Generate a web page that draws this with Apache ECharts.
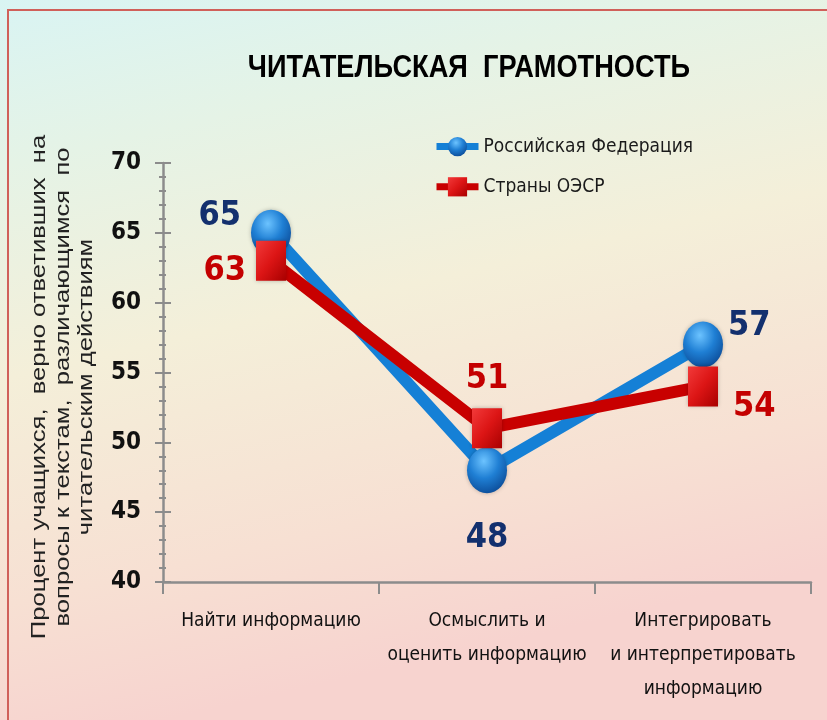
<!DOCTYPE html>
<html lang="ru">
<head>
    <meta charset="utf-8">
    <title>Читательская грамотность</title>
    <script src="https://cdn.jsdelivr.net/npm/echarts@6/dist/echarts.min.js"></script>
    <style>
        html, body { margin: 0; padding: 0; }
        #main { width: 827px; height: 720px; }
    </style>
</head>
<body>
<div id="main"></div>
<script type="text/javascript">
    // данные
    var categories = ['Найти информацию', 'Осмыслить и\nоценить информацию', 'Интегрировать\nи интерпретировать\nинформацию'];
    var russia = [65, 48, 57];
    var oecd = [63, 51, 54];
    var yTicks = [40, 45, 50, 55, 60, 65, 70];

    var narrow = '"Liberation Sans Narrow", "DejaVu Sans Condensed", sans-serif';

    var chart = echarts.init(document.getElementById('main'));

    // положение подписей для каждой точки
    var ruLabelPos = [
        {position: 'left', distance: 10, offset: [0, -17]},
        {position: 'bottom', distance: 28, offset: [0, 0]},
        {position: 'right', distance: 10, offset: [-5, -18]}
    ];
    var oeLabelPos = [
        {position: 'left', distance: 10, offset: [0, 10]},
        {position: 'top', distance: 12, offset: [0, 0]},
        {position: 'right', distance: 12, offset: [3, 21]}
    ];

    function withLabels(values, pos, color) {
        return values.map(function (v, i) {
            return {
                value: v,
                label: {
                    show: true,
                    position: pos[i].position,
                    distance: pos[i].distance,
                    offset: pos[i].offset,
                    color: color,
                    fontFamily: narrow,
                    fontWeight: 'bold',
                    fontSize: 34
                }
            };
        });
    }

    var option = {
        backgroundColor: new echarts.graphic.LinearGradient(0, 0, 0.2, 1, [
            {offset: 0, color: '#d9f4f3'},
            {offset: 0.22, color: '#e5f3e6'},
            {offset: 0.5, color: '#f4efd9'},
            {offset: 0.8, color: '#f7e0d3'},
            {offset: 1, color: '#f7d3cf'}
        ]),
        legend: {
            orient: 'vertical',
            left: 428,
            top: 132,
            itemWidth: 42,
            itemHeight: 24,
            itemGap: 21,
            lineStyle: {width: 7},
            textStyle: {
                color: '#1a1a1a',
                fontFamily: narrow,
                fontSize: 19
            },
            data: ['Российская Федерация', 'Страны ОЭСР']
        },
        graphic: [
            {
                type: 'rect',
                shape: {x: 8, y: 10, width: 830, height: 720},
                style: {fill: 'none', stroke: '#d0605a', lineWidth: 2},
                silent: true
            },
            {
                // заголовок
                type: 'text',
                x: 469,
                y: 68,
                scaleX: 0.85,
                style: {
                    text: 'ЧИТАТЕЛЬСКАЯ  ГРАМОТНОСТЬ',
                    align: 'center',
                    verticalAlign: 'middle',
                    fill: '#000',
                    font: 'bold 32px "Liberation Sans", Arial, sans-serif'
                }
            },
            {
                // подпись оси Y
                type: 'text',
                x: 63,
                y: 387,
                rotation: Math.PI / 2,
                scaleX: 1.22,
                style: {
                    text: 'Процент учащихся,  верно ответивших  на\nвопросы к текстам,  различающимся  по\nчитательским действиям',
                    align: 'center',
                    verticalAlign: 'middle',
                    lineHeight: 23.5,
                    fill: '#222',
                    font: '21px "Liberation Sans", Arial, sans-serif'
                }
            }
        ],
        grid: {
            left: 163,
            right: 16,
            top: 163,
            bottom: 138
        },
        xAxis: {
            type: 'category',
            data: categories,
            boundaryGap: true,
            axisLine: {lineStyle: {color: '#8c8c8c', width: 2.5}},
            axisTick: {show: true, interval: 0, length: 12, lineStyle: {color: '#8c8c8c', width: 2}},
            axisLabel: {
                interval: 0,
                color: '#111',
                fontFamily: narrow,
                fontSize: 19,
                lineHeight: 34,
                margin: 22
            },
            splitLine: {show: false}
        },
        yAxis: [
            {
                type: 'value',
                min: 40,
                max: 70,
                interval: 5,
                position: 'left',
                axisLine: {show: true, lineStyle: {color: '#8c8c8c', width: 2.5}},
                axisTick: {show: true, length: 8, lineStyle: {color: '#8c8c8c', width: 2}},
                minorTick: {show: true, splitNumber: 5, length: 4, lineStyle: {color: '#8c8c8c', width: 2}},
                axisLabel: {
                    color: '#111',
                    fontFamily: narrow,
                    fontWeight: 'bold',
                    fontSize: 24,
                    margin: 22,
                    formatter: function (v) {
                        return yTicks.indexOf(v) >= 0 ? String(v) : '';
                    }
                },
                splitLine: {show: false}
            },
            {
                type: 'value',
                min: 40,
                max: 70,
                interval: 5,
                position: 'left',
                offset: 0,
                axisLine: {show: false},
                axisTick: {show: true, inside: true, length: 8, lineStyle: {color: '#8c8c8c', width: 2}},
                minorTick: {show: true, splitNumber: 5, length: 3, lineStyle: {color: '#8c8c8c', width: 2}},
                axisLabel: {show: false},
                splitLine: {show: false}
            }
        ],
        series: [
            {
                name: 'Российская Федерация',
                type: 'line',
                data: withLabels(russia, ruLabelPos, '#13306e'),
                z: 2,
                symbol: 'circle',
                symbolSize: [40, 46],
                lineStyle: {color: '#1580d6', width: 12},
                itemStyle: {
                    color: new echarts.graphic.RadialGradient(0.42, 0.3, 0.75, [
                        {offset: 0, color: '#6cc3ff'},
                        {offset: 0.5, color: '#1f7fd4'},
                        {offset: 1, color: '#0b4a96'}
                    ]),
                    shadowColor: 'rgba(0,0,0,0.25)',
                    shadowBlur: 4
                },
                emphasis: {disabled: true}
            },
            {
                name: 'Страны ОЭСР',
                type: 'line',
                data: withLabels(oecd, oeLabelPos, '#c40000'),
                z: 3,
                symbol: 'rect',
                symbolSize: [30, 40],
                lineStyle: {color: '#c80000', width: 12},
                itemStyle: {
                    color: new echarts.graphic.LinearGradient(0, 0, 1, 1, [
                        {offset: 0, color: '#f23a3a'},
                        {offset: 0.5, color: '#dc1515'},
                        {offset: 1, color: '#a80000'}
                    ]),
                    shadowColor: 'rgba(0,0,0,0.25)',
                    shadowBlur: 4
                },
                emphasis: {disabled: true}
            }
        ],
        animation: false
    };
    chart.setOption(option);
</script>
</body>
</html>
